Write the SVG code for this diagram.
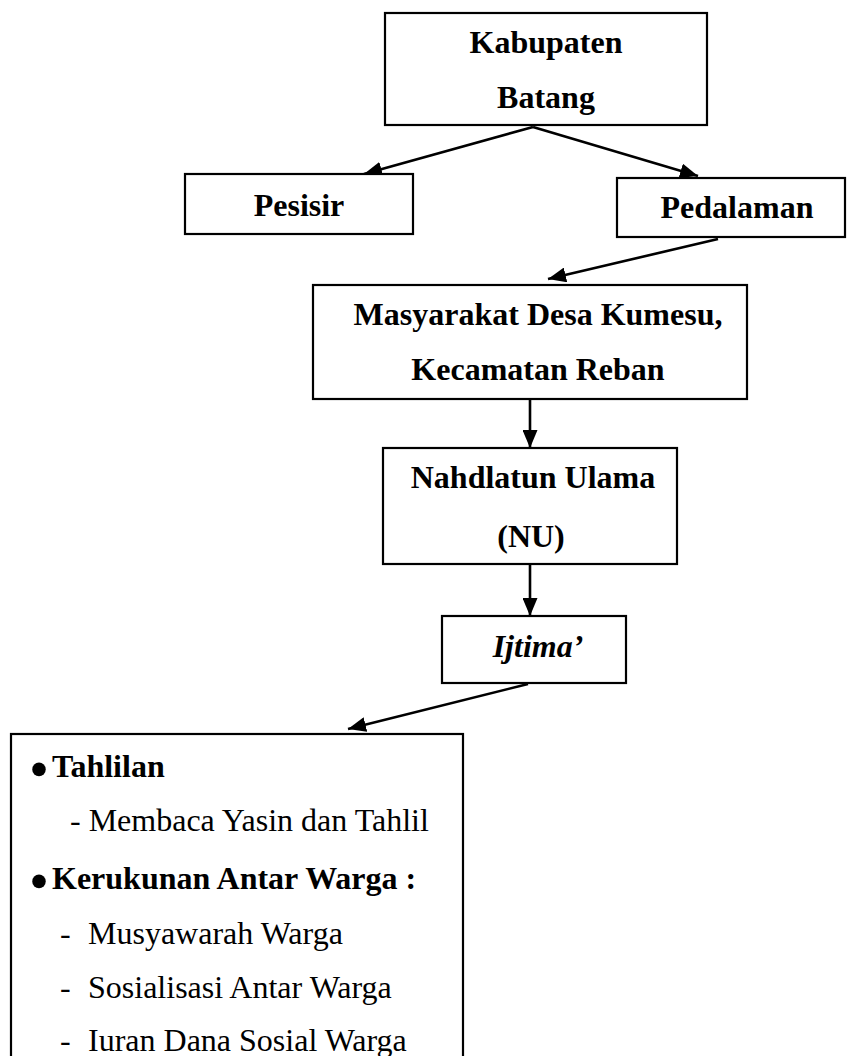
<svg xmlns="http://www.w3.org/2000/svg" width="847" height="1056" viewBox="0 0 847 1056">
<style>
  .box { fill: #ffffff; stroke: #000000; stroke-width: 2.2; }
  .t { font-family: "Liberation Serif", "Times New Roman", serif; font-size: 32px; fill: #000000; }
  .b { font-weight: bold; }
  .c { text-anchor: middle; }
  .bul { font-family: "Liberation Serif", "Times New Roman", serif; font-size: 50px; font-weight: bold; fill: #000000; text-anchor: middle; }
  .conn { stroke: #000000; stroke-width: 2.6; fill: none; marker-end: url(#arrow); }
</style>
<defs>
  <marker id="arrow" markerUnits="userSpaceOnUse" markerWidth="19" markerHeight="15" refX="18" refY="7.5" orient="auto">
    <path d="M0,0 L18,7.5 L0,15 z" fill="#000000"/>
  </marker>
</defs>
<rect width="847" height="1056" fill="#ffffff"/>
<g id="connectors">
  <line class="conn" x1="533" y1="127" x2="364" y2="174"/>
  <line class="conn" x1="533" y1="127" x2="698" y2="176"/>
  <line class="conn" x1="718" y1="239" x2="548" y2="279"/>
  <line class="conn" x1="530" y1="399" x2="530" y2="448"/>
  <line class="conn" x1="530" y1="564" x2="530" y2="616"/>
  <line class="conn" x1="528" y1="684" x2="348" y2="729"/>
</g>
<g id="kabupaten">
  <rect class="box" x="385" y="13" width="322" height="112"/>
  <text class="t b c" x="546" y="53">Kabupaten</text>
  <text class="t b c" x="546" y="108">Batang</text>
</g>
<g id="pesisir">
  <rect class="box" x="185" y="174" width="228" height="60"/>
  <text class="t b c" x="299" y="216">Pesisir</text>
</g>
<g id="pedalaman">
  <rect class="box" x="617" y="178" width="228" height="59"/>
  <text class="t b c" x="737" y="218">Pedalaman</text>
</g>
<g id="masyarakat">
  <rect class="box" x="313" y="285" width="434" height="114"/>
  <text class="t b c" x="538" y="325">Masyarakat Desa Kumesu,</text>
  <text class="t b c" x="538" y="380">Kecamatan Reban</text>
</g>
<g id="nu">
  <rect class="box" x="383" y="448" width="294" height="116"/>
  <text class="t b c" x="533" y="488">Nahdlatun Ulama</text>
  <text class="t b c" x="531" y="547">(NU)</text>
</g>
<g id="ijtima">
  <rect class="box" x="442" y="616" width="184" height="67"/>
  <text class="t b c" x="538" y="657" font-style="italic">Ijtima’</text>
</g>
<g id="kegiatan">
  <rect class="box" x="11" y="734" width="452" height="340"/>
  <text class="bul" x="39" y="786">•</text>
  <text class="t b" x="52" y="777">Tahlilan</text>
  <text class="t" x="70" y="831">- Membaca Yasin dan Tahlil</text>
  <text class="bul" x="39" y="898">•</text>
  <text class="t b" x="52" y="889">Kerukunan Antar Warga :</text>
  <text class="t" x="60" y="944">-</text>
  <text class="t" x="88" y="944">Musyawarah Warga</text>
  <text class="t" x="60" y="998">-</text>
  <text class="t" x="88" y="998">Sosialisasi Antar Warga</text>
  <text class="t" x="60" y="1051">-</text>
  <text class="t" x="88" y="1051">Iuran Dana Sosial Warga</text>
</g>
</svg>
